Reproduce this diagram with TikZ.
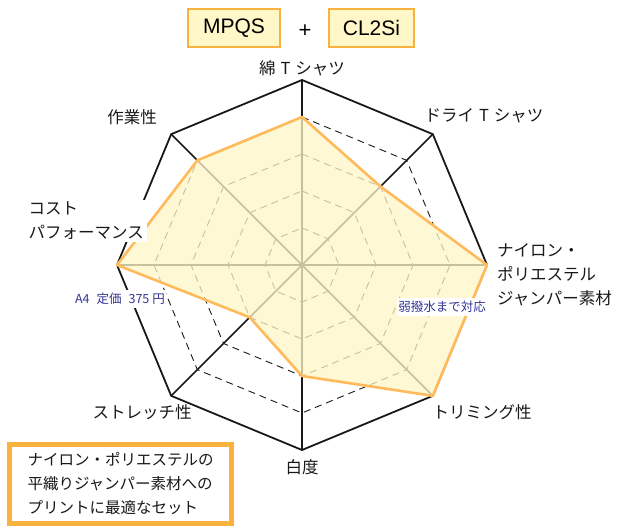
\documentclass[tikz,border=0pt]{standalone}
\usepackage{fontspec}
\setmainfont{Noto Sans CJK JP}
\newfontfamily\boxfont{Liberation Sans}
\usetikzlibrary{calc,positioning}
\definecolor{ChartOrange}{RGB}{255,186,92}
\definecolor{ChartFill}{RGB}{255,246,200}
\definecolor{BoxOrange}{RGB}{250,178,62}
\definecolor{BoxYellow}{RGB}{255,247,200}
\definecolor{NoteBlue}{RGB}{52,52,150}

\begin{document}
\begin{tikzpicture}[
		x=1pt, y=1pt,
		font=\fontsize{16.5}{24}\selectfont,
		TitleBox/.style={draw=BoxOrange, line width=2pt, fill=BoxYellow,
			minimum height=38pt, font=\boxfont\fontsize{21}{24}\selectfont},
		AxisLabel/.style={inner sep=0pt, text=black!90, align=left},
		BlueNote/.style={fill=white, text=NoteBlue, inner xsep=1.5pt, inner ysep=3pt,
			font=\fontsize{12.5}{14}\selectfont},
		NoteBox/.style={draw=BoxOrange, line width=4.5pt, fill=white, align=left,
			minimum width=222pt, minimum height=79pt, text=black!90,
			font=\fontsize{15.5}{24}\selectfont},
		RingLine/.style={black!90, line width=0.9pt, dash pattern=on 7pt off 5pt},
		SpokeLine/.style={black!90, line width=1.6pt},
		OuterLine/.style={black!90, line width=1.8pt},
		DataArea/.style={fill=ChartFill, fill opacity=0.76, draw=ChartOrange,
			line width=2.6pt, line join=round},
		]
		\useasboundingbox (0,0) rectangle (620,-527);
		\coordinate (O) at (302,-265);
		% eight axes, clockwise from the top
		\foreach \a/\n in {90/cotton,45/dry,0/nylon,-45/trim,-90/white,-135/stretch,180/cost,135/work}
			\coordinate (\n) at ($(O)+(\a:185)$);
		% grid
		\foreach \r in {0.2,0.4,0.6,0.8}
			\draw[RingLine] ($(O)!\r!(cotton)$) -- ($(O)!\r!(dry)$) -- ($(O)!\r!(nylon)$)
				-- ($(O)!\r!(trim)$) -- ($(O)!\r!(white)$) -- ($(O)!\r!(stretch)$)
				-- ($(O)!\r!(cost)$) -- ($(O)!\r!(work)$) -- cycle;
		\foreach \n in {cotton,dry,nylon,trim,white,stretch,cost,work}
			\draw[SpokeLine] (O) -- (\n);
		\draw[OuterLine] (cotton) -- (dry) -- (nylon) -- (trim) -- (white)
			-- (stretch) -- (cost) -- (work) -- cycle;
		% values
		\draw[DataArea] ($(O)!0.8!(cotton)$) -- ($(O)!0.6!(dry)$) -- (nylon) -- (trim)
			-- ($(O)!0.6!(white)$) -- ($(O)!0.4!(stretch)$) -- (cost)
			-- ($(O)!0.8!(work)$) -- cycle;
		% axis labels
		\node[AxisLabel, above=4pt of cotton] (cottonLbl) {綿\hspace{5pt}T\hspace{5pt}シャツ};
		\node[AxisLabel] (dryLbl) at (484,-116) {ドライ\hspace{5pt}T\hspace{5pt}シャツ};
		\node[AxisLabel, anchor=west] (nylonLbl) at (497,-275) {ナイロン・\\ポリエステル\\ジャンパー素材};
		\node[AxisLabel] (trimLbl) at (482,-412) {トリミング性};
		\node[AxisLabel, below=9pt of white] (whiteLbl) {白度};
		\node[AxisLabel] (stretchLbl) at (142,-412) {ストレッチ性};
		\node[AxisLabel, fill=white, inner xsep=3pt, inner ysep=2pt, anchor=east] (costLbl)
			at (147,-221) {コスト\\パフォーマンス};
		\node[AxisLabel] (workLbl) at (132,-117) {作業性};
		\node[BlueNote] (priceNote) at (120,-299) {A4\hspace{7pt}定価\hspace{7pt}375\hspace{3pt}円};
		\node[BlueNote] (waterNote) at (442,-307) {弱撥水まで対応};
		% title
		\node[TitleBox, minimum width=92pt] (mpqs) at (234,-28) {MPQS};
		\node[font=\boxfont\fontsize{22}{24}\selectfont] (plus) at (305,-31) {+};
		\node[TitleBox, minimum width=85pt] (cl2si) at (371.5,-28) {CL2Si};
		\node[NoteBox] (setNote) at (120.5,-484) {ナイロン・ポリエステルの\\平織りジャンパー素材への\\プリントに最適なセット};
	\end{tikzpicture}
\end{document}
